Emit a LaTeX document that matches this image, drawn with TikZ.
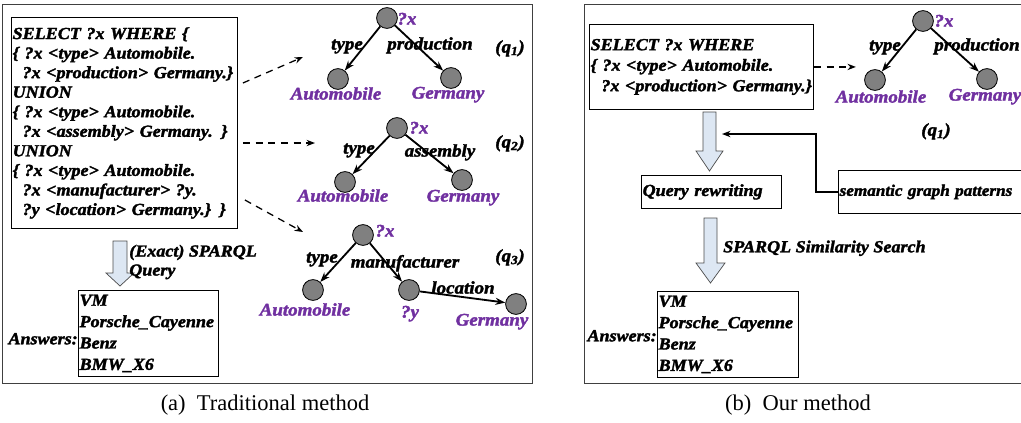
\documentclass[tikz,border=0pt]{standalone}
\usepackage{fontspec}
\setmainfont{Liberation Serif}
\newfontfamily\figfont[FakeStretch=1.07, BoldItalicFeatures={FakeBold=2}]{Liberation Serif}
\usetikzlibrary{arrows.meta,positioning}

\definecolor{viola}{RGB}{112,48,160}
\definecolor{grigio}{RGB}{128,128,128}
\definecolor{azzurrino}{RGB}{221,231,243}

\tikzset{
    testo/.style={font={\figfont\fontsize{12}{#1}\selectfont\bfseries\itshape}},
    testo/.default=15,
    riga/.style={testo, inner sep=0pt, text height=8pt, text depth=0.5pt},
    etich/.style={font={\figfont\fontsize{12.6}{15}\selectfont\bfseries\itshape}, inner sep=0pt, text height=8.4pt, text depth=0.5pt},
    riquadro/.style={draw=black!75, line width=0.7pt},
    scatola/.style={draw, line width=0.6pt, align=left, inner xsep=0.03cm, inner ysep=0pt, anchor=north west},
    vertice/.style={circle, draw, line width=0.6pt, fill=grigio, minimum size=0.52cm, inner sep=0pt},
    arco/.style={-{Stealth[length=7pt,width=5pt]}, line width=1.3pt},
    tratt/.style={-{Stealth[length=6pt,width=4.5pt]}, line width=0.9pt, dash pattern=on 5pt off 4pt},
    freccia/.style={-{Stealth[length=6pt,width=4.5pt]}, line width=1pt},
    freccione/.style={draw=black!70, fill=azzurrino, line width=0.5pt},
    didascalia/.style={font=\fontsize{16}{19}\selectfont, inner sep=0pt}
}

\begin{document}
\begin{tikzpicture}[x=0.025cm, y=-0.025cm]
    \useasboundingbox (0,0) rectangle (1021,422);
    \clip (0,0) rectangle (1021,422);

    % Riquadro (a)
    \draw[riquadro] (2,4) rectangle (532,383);

    \node[scatola, testo=13.9, text width=5.59cm, minimum height=5.275cm] (qa) at (11,17) {SELECT ?x WHERE \{\\
        \{ ?x <type> Automobile.\\
        \hspace*{0.25cm}\mbox{?x <production> Germany.\}}\\
        UNION\\
        \{ ?x <type> Automobile.\\
        \hspace*{0.25cm}?x <assembly> Germany. \}\\
        UNION\\
        \{ ?x <type> Automobile.\\
        \hspace*{0.25cm}?x <manufacturer> ?y.\\
        \hspace*{0.25cm}?y <location> Germany.\} \}};

    % frecce tratteggiate verso i grafi
    \coordinate (d1) at (303,57);
    \coordinate (d2) at (315,143);
    \coordinate (d3) at (303,232);
    \draw[tratt] (qa.north east) ++(5,66) -- (d1);
    \draw[tratt] (qa.north east) ++(5,126) -- (d2);
    \draw[tratt] (qa.north east) ++(7,183) -- (d3);

    % grafo q1
    \node[vertice] (r1) at (387,18) {};
    \node[vertice] (a1) at (338,79) {};
    \node[vertice] (g1) at (451,78) {};
    \node[etich, text=viola] (r1x) at (407,19) {?x};
    \node[etich, text=viola] (a1t) at (336,94) {Automobile};
    \node[etich, text=viola] (g1t) at (448,93) {Germany};
    \node[etich] (a1e) at (347,44) {type};
    \node[etich] (g1e) at (430,44) {production};
    \node[etich] (q1) at (510,47) {(q\textsubscript{1})};
    \draw[arco] (r1) -- (a1);
    \draw[arco] (r1) -- (g1);

    % grafo q2
    \node[vertice] (r2) at (397,128) {};
    \node[vertice] (a2) at (345,182) {};
    \node[vertice] (g2) at (462,180) {};
    \node[etich, text=viola] (r2x) at (419,128) {?x};
    \node[etich, text=viola] (a2t) at (343,196) {Automobile};
    \node[etich, text=viola] (g2t) at (463,196) {Germany};
    \node[etich] (a2e) at (359,148) {type};
    \node[etich] (g2e) at (440,151) {assembly};
    \node[etich] (q2) at (510,142) {(q\textsubscript{2})};
    \draw[arco] (r2) -- (a2);
    \draw[arco] (r2) -- (g2);

    % grafo q3
    \node[vertice] (r3) at (363,235) {};
    \node[vertice] (a3) at (313,290) {};
    \node[vertice] (y3) at (409,290) {};
    \node[vertice] (g3) at (516,304) {};
    \node[etich, text=viola] (r3x) at (385,231) {?x};
    \node[etich, text=viola] (a3t) at (305,310) {Automobile};
    \node[etich, text=viola] (y3t) at (410,312) {?y};
    \node[etich, text=viola] (g3t) at (492,320) {Germany};
    \node[etich] (a3e) at (322,257) {type};
    \node[etich] (y3e) at (405,262) {manufacturer};
    \node[etich] (g3e) at (463,288) {location};
    \node[etich] (q3) at (510,256) {(q\textsubscript{3})};
    \draw[arco] (r3) -- (a3);
    \draw[arco] (r3) -- (y3);
    \draw[arco] (y3) -- (g3);

    % freccia verso le risposte
    \draw[freccione] (113,241) -- (127,241) -- (127,273) -- (134,273) -- (120,286) -- (106,273) -- (113,273) -- cycle;
    \node[testo=13.5, align=left, anchor=west, inner sep=0pt] (esatta) at (129,262) {(Exact) SPARQL\\Query};

    \node[scatola, testo=15.2, text width=3.45cm, minimum height=2.15cm] (ansA) at (78,290) {VM\\Porsche\_Cayenne\\Benz\\BMW\_X6};
    \node[riga, anchor=east] (ansAl) at (78,339) {Answers:};

    \node[didascalia] (capA) at (265,405) {(a)\ \ Traditional method};

    % Riquadro (b)
    \draw[riquadro] (584,4) rectangle (1040,383);

    \node[scatola, testo=14.6, text width=5.54cm, minimum height=2.125cm] (qb) at (589,24) {SELECT ?x WHERE\\
        \{ ?x <type> Automobile.\\
        \hspace*{0.27cm}\mbox{?x <production> Germany.\}}};
    \draw[tratt] (qb.east) -- ++(42,0);

    % grafo q1
    \node[vertice] (r4) at (923,21) {};
    \node[vertice] (a4) at (875,80) {};
    \node[vertice] (g4) at (987,79) {};
    \node[etich, text=viola] (r4x) at (944,21) {?x};
    \node[etich, text=viola] (a4t) at (881,97) {Automobile};
    \node[etich, text=viola] (g4t) at (985,95) {Germany};
    \node[etich] (a4e) at (885,45) {type};
    \node[etich] (g4e) at (977,45) {production};
    \node[etich] (q4) at (936,130) {(q\textsubscript{1})};
    \draw[arco] (r4) -- (a4);
    \draw[arco] (r4) -- (g4);

    % riscrittura
    \draw[freccione] (703,112) -- (716,112) -- (716,151) -- (723,151) -- (709.5,171) -- (696,151) -- (703,151) -- cycle;
    \node[scatola, testo, text width=3.44cm, minimum height=0.825cm] (rw) at (641,175) {Query rewriting};
    \node[scatola, font={\figfont\fontsize{11.4}{15}\selectfont\bfseries\itshape}, text width=5cm, minimum height=1.075cm] (sem) at (838,170) {semantic graph patterns};
    \coordinate (rwin) at (722,134);
    \draw[freccia] (sem.west) -- ++(-22,0) |- (rwin);

    \draw[freccione] (704,218) -- (717,218) -- (717,263) -- (725,263) -- (710.5,283) -- (696,263) -- (704,263) -- cycle;
    \node[riga, anchor=west] (simil) at (723,247) {SPARQL Similarity Search};

    \node[scatola, testo=15.2, text width=3.47cm, minimum height=2.15cm] (ansB) at (657,291) {VM\\Porsche\_Cayenne\\Benz\\BMW\_X6};
    \node[riga, anchor=east] (ansBl) at (657,336) {Answers:};

    \node[didascalia] (capB) at (798,405) {(b)\ \ Our method};
\end{tikzpicture}
\end{document}
